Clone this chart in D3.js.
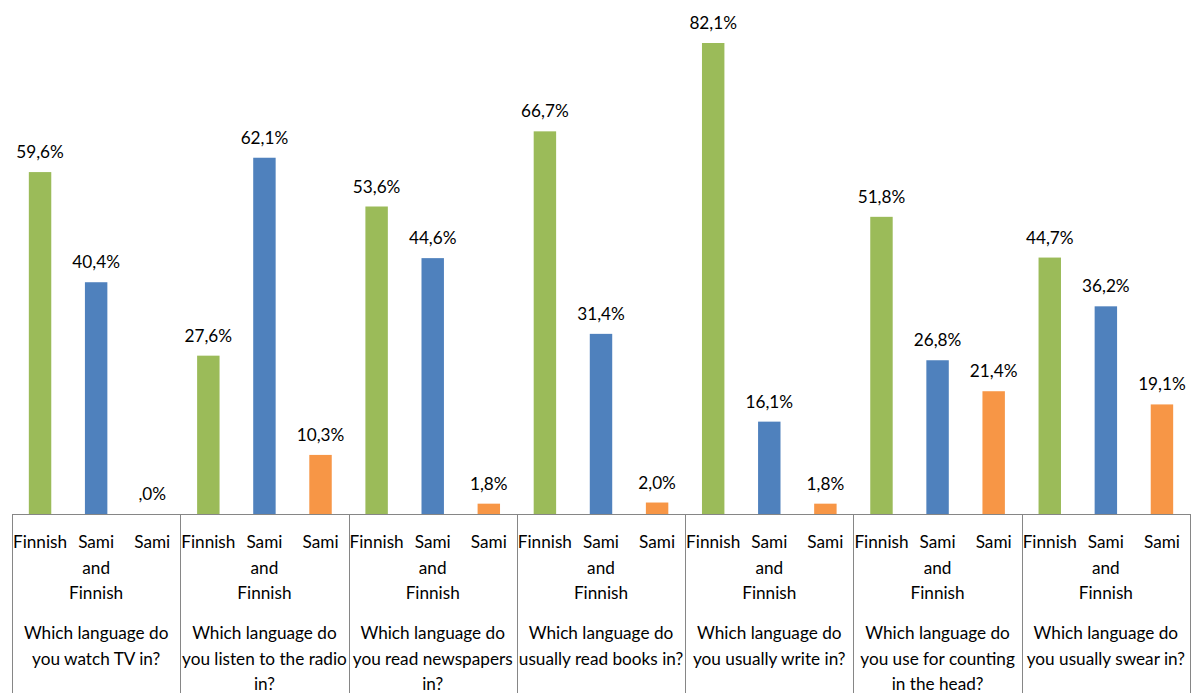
<!DOCTYPE html>
<html>
<head>
<meta charset="utf-8">
<script src="https://cdn.jsdelivr.net/npm/d3@7"></script>
<style>
  body { margin: 0; background: #fff; }
  text { font-family: Lato, "Open Sans", sans-serif; fill: #000; }
</style>
</head>
<body>
<div id="plot"></div>
<script>
// data
var questions = [
    "Which language do\nyou watch TV in?",
    "Which language do\nyou listen to the radio\nin?",
    "Which language do\nyou read newspapers\nin?",
    "Which language do\nusually read books in?",
    "Which language do\nyou usually write in?",
    "Which language do\nyou use for counting\nin the head?",
    "Which language do\nyou usually swear in?"
]
var answers = ["Finnish", "Sami\nand\nFinnish", "Sami"]
var finnish = [59.6, 27.6, 53.6, 66.7, 82.1, 51.8, 44.7]
var samiFinnish = [40.4, 62.1, 44.6, 31.4, 16.1, 26.8, 36.2]
var sami = [0, 10.3, 1.8, 2.0, 1.8, 21.4, 19.1]
var colors = ["#9BBB59", "#4F81BD", "#F79646"]

var series = [finnish, samiFinnish, sami]

// svg dimensions
var width = 1194
var height = 693
var axisY = 514
var fontSize = "17.2px"

var svg = d3.select("#plot").append("svg")
    .attr("width", width)
    .attr("height", height)

// scales
var x0 = d3.scaleBand()
    .domain(questions)
    .range([12, 1190])
    .padding(0)

var x1 = d3.scaleBand()
    .domain(answers)
    .range([0, x0.bandwidth()])
    .paddingInner(0.6)
    .paddingOuter(0.3)

var y = d3.scaleLinear().domain([0, 82.1]).range([axisY, 43])

function fmt(v) {
    var s = d3.format(".1f")(v).replace(".", ",")
    if (s.indexOf("0,") == 0) s = s.substring(1)
    return s + "%"
}

// bars
var rows = []
questions.forEach(function (q, qi) {
    answers.forEach(function (a, ai) {
        rows.push({q: q, a: a, v: series[ai][qi], c: colors[ai]})
    })
})

var g = svg.append("g")

g.selectAll(".bar")
    .data(rows)
    .enter().append("rect")
    .attr("class", "bar")
    .attr("x", function (d) { return x0(d.q) + x1(d.a) })
    .attr("y", function (d) { return y(d.v) })
    .attr("width", x1.bandwidth())
    .attr("height", function (d) { return axisY - y(d.v) })
    .attr("fill", function (d) { return d.c })

g.selectAll(".val")
    .data(rows)
    .enter().append("text")
    .attr("class", "val")
    .attr("x", function (d) { return x0(d.q) + x1(d.a) + x1.bandwidth() / 2 })
    .attr("y", function (d) { return y(d.v) - 20 })
    .attr("dy", "0.35em")
    .attr("text-anchor", "middle")
    .style("font-size", fontSize)
    .text(function (d) { return fmt(d.v) })

// axis box
var axis = svg.append("g").attr("stroke", "#868686").attr("stroke-width", 1)
axis.append("line")
    .attr("x1", x0.range()[0]).attr("x2", x0.range()[1])
    .attr("y1", axisY + 0.5).attr("y2", axisY + 0.5)

var edges = questions.map(function (q) { return x0(q) })
edges.push(x0.range()[1])
axis.selectAll(".div")
    .data(edges)
    .enter().append("line")
    .attr("x1", function (d) { return Math.round(d) + 0.5 })
    .attr("x2", function (d) { return Math.round(d) + 0.5 })
    .attr("y1", axisY)
    .attr("y2", height)

// answer labels
questions.forEach(function (q) {
    answers.forEach(function (a) {
        var t = svg.append("text")
            .attr("text-anchor", "middle")
            .style("font-size", fontSize)
        a.split("\n").forEach(function (line, i) {
            t.append("tspan")
                .attr("x", x0(q) + x1(a) + x1.bandwidth() / 2)
                .attr("y", 542 + i * 25.5)
                .attr("dy", "0.35em")
                .text(line)
        })
    })
    var qt = svg.append("text")
        .attr("text-anchor", "middle")
        .style("font-size", fontSize)
    q.split("\n").forEach(function (line, i) {
        qt.append("tspan")
            .attr("x", x0(q) + x0.bandwidth() / 2)
            .attr("y", 633 + i * 25.5)
            .attr("dy", "0.35em")
            .text(line)
    })
})
</script>
</body>
</html>
